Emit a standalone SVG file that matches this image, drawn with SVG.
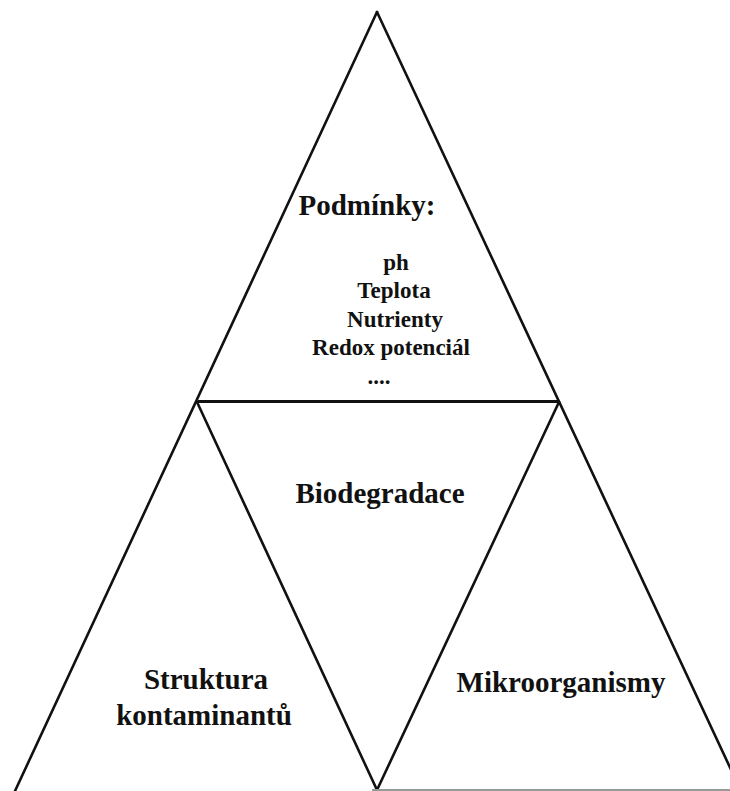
<svg xmlns="http://www.w3.org/2000/svg" width="730" height="791" viewBox="0 0 730 791">
  <style>
    .edge { stroke: #111; stroke-width: 2.6; fill: none; stroke-linecap: round; }
    .divider { stroke: #111; stroke-width: 3; fill: none; }
    .base { stroke: #9a9a9a; stroke-width: 2; fill: none; }
    .lbl { font-family: "Liberation Serif", "Times New Roman", serif; font-weight: bold; fill: #111; text-anchor: middle; }
    .big { font-size: 29px; }
    .small { font-size: 23px; }
  </style>
  <rect width="730" height="791" fill="#fff"/>

  <g id="connectors">
    <!-- outer triangle sides -->
    <line class="edge" x1="377" y1="12" x2="15" y2="791"/>
    <line class="edge" x1="377" y1="12" x2="741" y2="791"/>
    <!-- horizontal divider -->
    <line class="divider" x1="198" y1="401.5" x2="559" y2="401.5"/>
    <!-- inner inverted triangle -->
    <line class="edge" x1="197" y1="402" x2="377" y2="790"/>
    <line class="edge" x1="559" y1="402" x2="377" y2="790"/>
    <!-- base line -->
    <line class="base" x1="372" y1="790" x2="730" y2="790"/>
  </g>

  <g id="podminky">
    <text class="lbl big" x="367" y="215">Podmínky:</text>
    <text class="lbl small" x="396" y="270">ph</text>
    <text class="lbl small" x="394" y="298">Teplota</text>
    <text class="lbl small" x="395" y="327">Nutrienty</text>
    <text class="lbl small" x="391" y="355">Redox potenciál</text>
    <text class="lbl small" x="379" y="384">....</text>
  </g>

  <g id="biodegradace">
    <text class="lbl big" x="380" y="503">Biodegradace</text>
  </g>

  <g id="struktura">
    <text class="lbl big" x="206" y="689">Struktura</text>
    <text class="lbl big" x="204" y="725">kontaminantů</text>
  </g>

  <g id="mikroorganismy">
    <text class="lbl big" x="561" y="692">Mikroorganismy</text>
  </g>
</svg>
